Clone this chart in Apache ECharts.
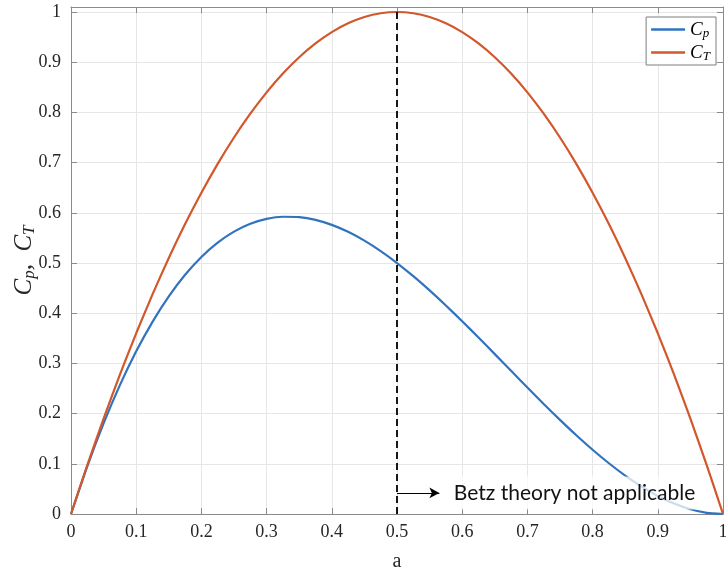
<!DOCTYPE html>
<html><head><meta charset="utf-8">
<script src="https://cdn.jsdelivr.net/npm/echarts@6/dist/echarts.min.js"></script>
<style>html,body{margin:0;padding:0;background:#fff}#c{width:726px;height:567px}</style>
</head><body><div id="c"></div>
<script>
const aValues = [0,0.025,0.05,0.075,0.1,0.125,0.15,0.175,0.2,0.225,0.25,0.275,0.3,0.325,0.35,0.375,0.4,0.425,0.45,0.475,0.5,0.525,0.55,0.575,0.6,0.625,0.65,0.675,0.7,0.725,0.75,0.775,0.8,0.825,0.85,0.875,0.9,0.925,0.95,0.975,1];
const cpValues = [0,0.0951,0.1805,0.2567,0.324,0.3828,0.4335,0.4765,0.512,0.5405,0.5625,0.5782,0.588,0.5922,0.5915,0.5859,0.576,0.5621,0.5445,0.5237,0.5,0.4738,0.4455,0.4154,0.384,0.3516,0.3185,0.2852,0.252,0.2193,0.1875,0.1569,0.128,0.1011,0.0765,0.0547,0.036,0.0208,0.0095,0.0024,0];
const ctValues = [0,0.0975,0.19,0.2775,0.36,0.4375,0.51,0.5775,0.64,0.6975,0.75,0.7975,0.84,0.8775,0.91,0.9375,0.96,0.9775,0.99,0.9975,1,0.9975,0.99,0.9775,0.96,0.9375,0.91,0.8775,0.84,0.7975,0.75,0.6975,0.64,0.5775,0.51,0.4375,0.36,0.2775,0.19,0.0975,0];
const betzA = 0.5;
const arrowY = 0.042;
const arrowEndA = 0.565;
const noteText = 'Betz theory not applicable';
const yMax = 1.01;

const serif = '"Liberation Serif", "DejaVu Serif", serif';
const axisCol = '#8a8a8a';
const txtCol = '#262626';
const chart = echarts.init(document.getElementById('c'));
const mk = vals => aValues.map((a,i)=>[a, vals[i]]);
const tickFmt = v => {
  const r = Math.round(v*10)/10;
  if (Math.abs(v - r) > 1e-6) return '';
  return r === 0 ? '0' : (r === 1 ? '1' : r.toFixed(1));
};
chart.setOption({
  animation:false,
  grid:{left:71, right:3, top:7, bottom:53, outerBoundsMode:'none', containLabel:false},
  legend:{
    right:10, top:17, orient:'vertical', itemGap:3,
    backgroundColor:'#fff', borderColor:'#7f7f7f', borderWidth:1, padding:[3,6,2,5],
    icon:'rect', itemWidth:34, itemHeight:2.5,
    data:['Cp','CT'],
    formatter: n => n==='Cp' ? '{i|C}{s|p}' : '{i|C}{s|T}',
    textStyle:{rich:{
      i:{fontFamily:serif, fontStyle:'italic', fontSize:19, color:'#000'},
      s:{fontFamily:serif, fontStyle:'italic', fontSize:13, color:'#000', verticalAlign:'bottom', padding:[8,0,0,0]}
    }}
  },
  xAxis:[{
    type:'value', min:0, max:1, interval:0.1,
    name:'a', nameLocation:'middle', nameGap:38, nameMoveOverlap:false,
    nameTextStyle:{fontFamily:serif, fontSize:20, color:txtCol},
    axisLine:{show:true, lineStyle:{color:axisCol, width:1}},
    axisTick:{show:true, inside:true, length:6, lineStyle:{color:axisCol}},
    axisLabel:{fontFamily:serif, fontSize:18, color:txtCol, margin:9, formatter:tickFmt},
    splitLine:{show:true, lineStyle:{color:'#e6e6e6', width:1}}
  },{
    type:'value', min:0, max:1, interval:0.1, position:'top',
    axisLine:{show:true, onZero:false, lineStyle:{color:axisCol, width:1}},
    axisTick:{show:true, inside:true, length:6, lineStyle:{color:axisCol}},
    axisLabel:{show:false}, splitLine:{show:false}
  }],
  yAxis:[{
    type:'value', min:0, max:yMax, interval:0.1,
    name:'{i|C}{s|p}{i|,  C}{s|T}', nameLocation:'middle', nameGap:33, nameRotate:90, nameMoveOverlap:false,
    nameTextStyle:{rich:{
      i:{fontFamily:serif, fontStyle:'italic', fontSize:25, color:txtCol},
      s:{fontFamily:serif, fontStyle:'italic', fontSize:17, color:txtCol, verticalAlign:'bottom', padding:[10,0,0,0]}
    }},
    axisLine:{show:true, lineStyle:{color:axisCol, width:1}},
    axisTick:{show:true, inside:true, length:6, lineStyle:{color:axisCol}},
    axisLabel:{fontFamily:serif, fontSize:18, color:txtCol, margin:10, formatter:tickFmt, showMaxLabel:false},
    splitLine:{show:true, lineStyle:{color:'#e6e6e6', width:1}}
  },{
    type:'value', min:0, max:yMax, interval:0.1, position:'right',
    axisLine:{show:true, onZero:false, lineStyle:{color:axisCol, width:1}},
    axisTick:{show:true, inside:true, length:6, lineStyle:{color:axisCol}},
    axisLabel:{show:false}, splitLine:{show:false}
  }],
  series:[
    {name:'Cp', type:'line', data:mk(cpValues), smooth:0.2, showSymbol:false, z:3,
     lineStyle:{color:'#3173BF', width:2.2}, itemStyle:{color:'#3173BF'}},
    {name:'CT', type:'line', data:mk(ctValues), smooth:0.2, showSymbol:false, z:3,
     lineStyle:{color:'#D2572A', width:2.2}, itemStyle:{color:'#D2572A'}},
    {name:'note', type:'line', data:[], z:5, silent:true,
     markLine:{silent:true, symbol:['none','none'], animation:false,
       data:[
         [{coord:[betzA,0], lineStyle:{type:[7,4], color:'#000', width:1.8}, label:{show:false}}, {coord:[betzA,1]}],
       ]},
    },
    {name:'note2', type:'line', data:[], z:6, silent:true,
     markLine:{silent:true, symbol:['none','arrow'], symbolSize:[8,10], animation:false,
       data:[[{coord:[betzA,arrowY], lineStyle:{type:'solid', color:'#000', width:1}, label:{show:false}}, {coord:[arrowEndA,arrowY]}]]},
     markPoint:{silent:true, symbol:'rect', symbolSize:0, animation:false,
       data:[{coord:[arrowEndA+0.013, arrowY],
         label:{show:true, position:'right', distance:0, formatter:noteText,
           fontFamily:'Lato, "Open Sans", sans-serif', fontSize:21, color:'#111',
           backgroundColor:'rgba(255,255,255,0.75)', padding:[6,14,6,6]}}]}
    }
  ]
});
</script></body></html>
